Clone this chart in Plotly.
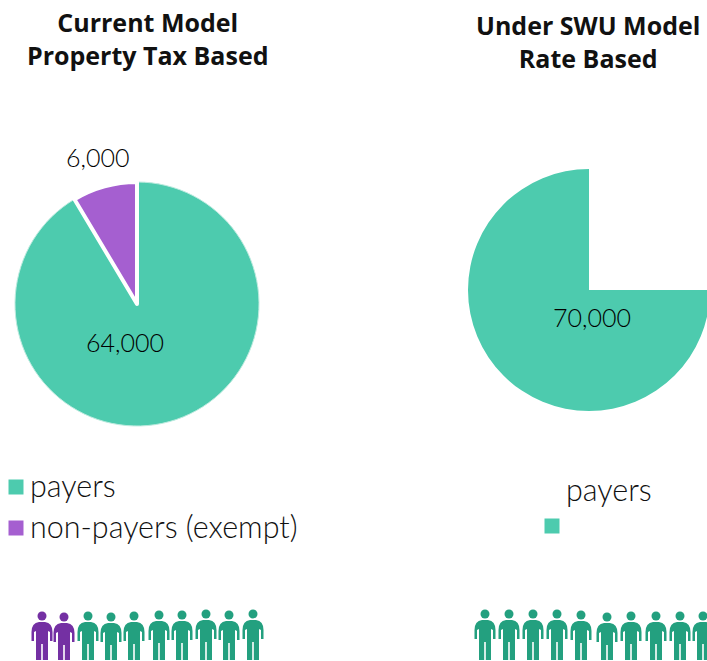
import plotly.graph_objects as go

W, H = 712, 661
FONT = "Lato"
TEAL, PURPLE = "#4DCBAE", "#A55FD0"
DARK_GREEN, DARK_PURPLE = "#23A07F", "#7430A3"

left_labels = ["payers", "payers", "non-payers (exempt)"]
left_values = [17500, 46500, 6000]
right_labels = ["", "payers"]
right_values = [17500, 52500]

left_person_x = [42, 64, 88, 111, 134, 159, 182, 206, 229, 253]
left_head_y = [616, 617, 616, 617, 616, 615, 615, 614, 615, 614]
left_person_colors = [DARK_PURPLE] * 2 + [DARK_GREEN] * 8
right_person_x = [485, 509, 533, 557, 581, 607, 631, 656, 680, 703]
right_head_y = [614, 614, 614, 614, 615, 617, 616, 616, 616, 616]

titles = [("Current Model<br>Property Tax Based", 147, 38), ("Under SWU Model<br>Rate Based", 588, 41)]
value_labels = [("6,000", 97, 157), ("64,000", 125, 342), ("70,000", 592, 317)]
legend_labels = [("payers", 30, 485), ("non-payers (exempt)", 30, 526), ("payers", 566, 489)]
legend_x = [16, 16, 552]
legend_y = [487, 528, 526]
legend_colors = [TEAL, PURPLE, TEAL]


def domain(x0, x1, y0, y1):
    return dict(x=[x0 / W, x1 / W], y=[1 - y1 / H, 1 - y0 / H])


def person_path(cx, hy):
    t = hy + 6
    b = 660
    return (
        f"M{cx-3},{t} L{cx+3},{t} Q{cx+10.5},{t+1} {cx+10.5},{t+10} L{cx+10.5},{t+19} L{cx+8},{t+19} "
        f"L{cx+8},{t+10} L{cx+6},{t+9} L{cx+6},{b} L{cx+0.8},{b} L{cx+0.8},{t+22} L{cx-0.8},{t+22} "
        f"L{cx-0.8},{b} L{cx-6},{b} L{cx-6},{t+9} L{cx-8},{t+10} L{cx-8},{t+19} L{cx-10.5},{t+19} "
        f"L{cx-10.5},{t+10} Q{cx-10.5},{t+1} {cx-3},{t} Z"
    )


fig = go.Figure()
fig.add_trace(go.Pie(
    labels=left_labels, values=left_values, sort=False, direction="clockwise", rotation=0,
    textinfo="none", hoverinfo="label+value", showlegend=False,
    domain=domain(15, 259, 182, 426),
    marker=dict(colors=[TEAL, TEAL, PURPLE],
                line=dict(color=["#BDEBDF", "#BDEBDF", "white"], width=[1, 1, 4])),
))
fig.add_trace(go.Pie(
    labels=right_labels, values=right_values, sort=False, direction="clockwise", rotation=0,
    textinfo="none", hoverinfo="label+value", showlegend=False,
    domain=domain(468, 710, 169, 411),
    marker=dict(colors=["white", TEAL], line=dict(width=0)),
))
fig.add_trace(go.Scatter(
    x=legend_x, y=legend_y, mode="markers", showlegend=False, hoverinfo="skip",
    marker=dict(symbol="square", size=15, color=legend_colors, line=dict(width=0)),
))

px = left_person_x + right_person_x
py = left_head_y + right_head_y
pc = left_person_colors + [DARK_GREEN] * len(right_person_x)
fig.add_trace(go.Scatter(
    x=px, y=py, mode="markers", showlegend=False, hoverinfo="skip",
    marker=dict(symbol="circle", size=9, color=pc, line=dict(width=0)),
))
shapes = [dict(type="path", path=person_path(x, y), fillcolor=c, line=dict(width=0), layer="above",
               xref="x", yref="y") for x, y, c in zip(px, py, pc)]

ann = []
for text, x, y in titles:
    ann.append(dict(x=x, y=y, text=f"<b>{text}</b>", xanchor="center", yanchor="middle",
                    font=dict(family="Open Sans", size=25, color="#111111")))
for text, x, y in value_labels:
    ann.append(dict(x=x, y=y, text=text, xanchor="center", yanchor="middle",
                    font=dict(family=FONT, size=25, weight=300, color="#000000")))
for text, x, y in legend_labels:
    ann.append(dict(x=x, y=y, text=text, xanchor="left", yanchor="middle",
                    font=dict(family=FONT, size=30.5, weight=300, color="#111111")))
for a in ann:
    a.update(showarrow=False, xref="x", yref="y", borderpad=0, borderwidth=0)

fig.update_layout(
    width=W, height=H, margin=dict(l=0, r=0, t=0, b=0),
    paper_bgcolor="white", plot_bgcolor="rgba(0,0,0,0)",
    xaxis=dict(range=[0, W], visible=False, fixedrange=True),
    yaxis=dict(range=[H, 0], visible=False, fixedrange=True),
    shapes=shapes, annotations=ann,
)
fig.write_html("out.html", config=dict(displayModeBar=False),
               post_script="document.documentElement.style.overflow='hidden';document.body.style.margin='0';document.body.style.overflow='hidden';")
